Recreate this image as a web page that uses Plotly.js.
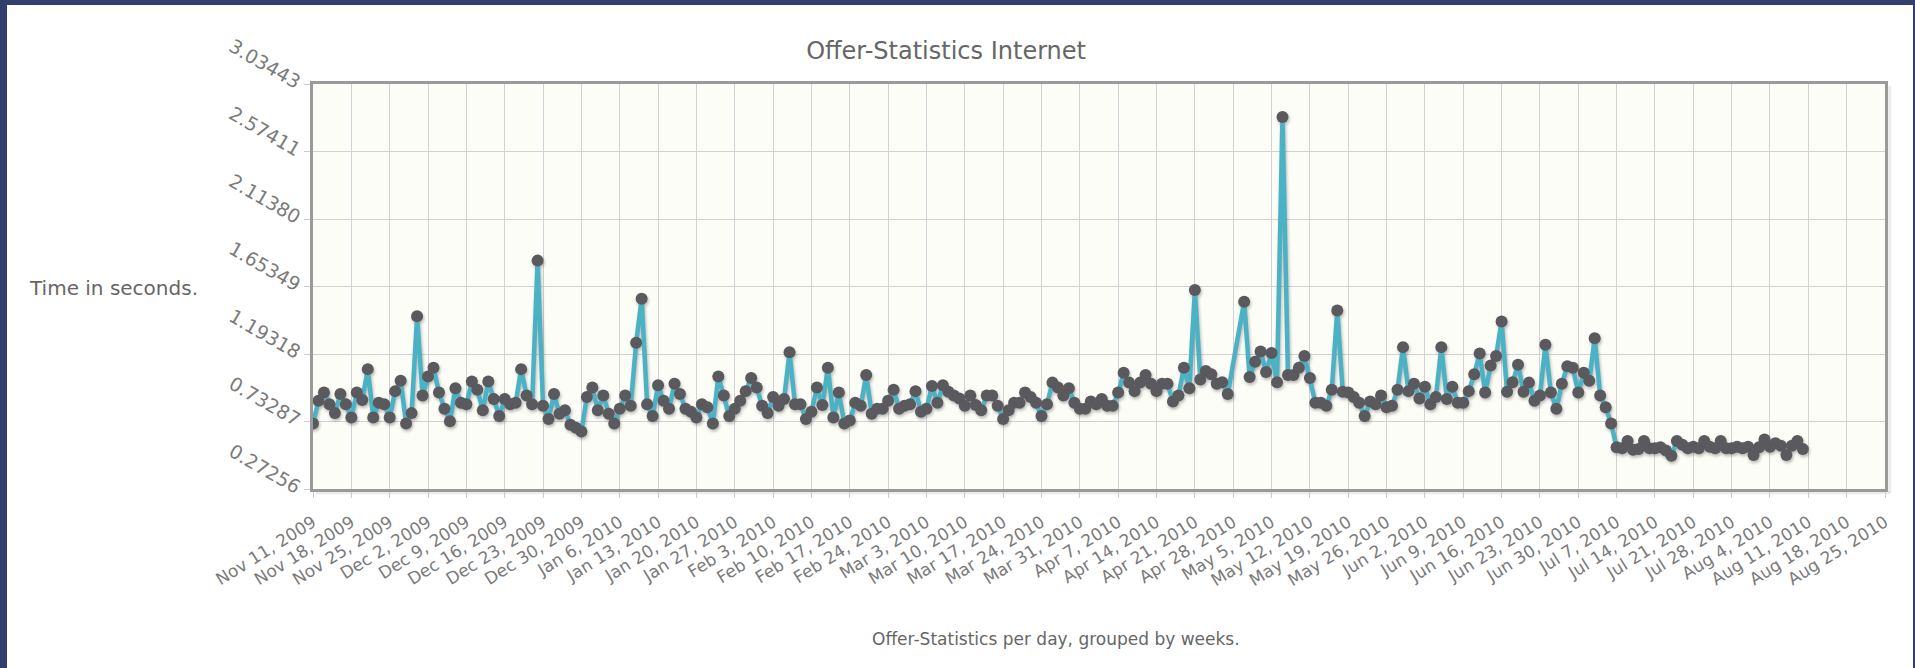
<!DOCTYPE html>
<html>
<head>
<meta charset="utf-8">
<script src="https://cdn.plot.ly/plotly-3.0.1.min.js"></script>
<style>
  html, body { margin: 0; padding: 0; background: #323e6d; width: 1915px; height: 668px; overflow: hidden; }
  #chart { position: absolute; left: 7px; top: 5px; width: 1906px; height: 663px; background: #ffffff; }
  #chart .scatterlayer { filter: drop-shadow(1.5px 2px 1.5px rgba(0,0,0,0.28)); }
</style>
</head>
<body>
<div id="chart"></div>
<script>
// ---- data ----
const startDate = '2009-11-11';   // first daily value
// average response time per day, in seconds (null = no data that day)
const dailySeconds = [
  0.72, 0.875, 0.93, 0.85, 0.79, 0.92, 0.85, 0.76, 0.93, 0.88,
  1.09, 0.76, 0.86, 0.85, 0.76, 0.94, 1.01, 0.72, 0.79, 1.45,
  0.91, 1.04, 1.10, 0.93, 0.82, 0.735, 0.96, 0.86, 0.85, 1.005,
  0.95, 0.81, 1.005, 0.886, 0.77, 0.886, 0.85, 0.86, 1.09, 0.91,
  0.85, 1.83, 0.84, 0.75, 0.92, 0.785, 0.81, 0.71, 0.69, 0.665,
  0.90, 0.965, 0.81, 0.91, 0.785, 0.72, 0.82, 0.91, 0.84, 1.27,
  1.57, 0.85, 0.77, 0.98, 0.875, 0.82, 0.99, 0.92, 0.82, 0.80,
  0.76, 0.85, 0.83, 0.72, 1.04, 0.91, 0.77, 0.82, 0.875, 0.94,
  1.03, 0.965, 0.84, 0.79, 0.90, 0.84, 0.886, 1.205, 0.85, 0.85,
  0.75, 0.80, 0.965, 0.845, 1.10, 0.76, 0.93, 0.72, 0.74, 0.86,
  0.84, 1.05, 0.785, 0.82, 0.82, 0.875, 0.95, 0.82, 0.84, 0.85,
  0.94, 0.80, 0.82, 0.975, 0.86, 0.98, 0.935, 0.91, 0.89, 0.84,
  0.91, 0.845, 0.81, 0.91, 0.91, 0.84, 0.75, 0.81, 0.86, 0.86,
  0.93, 0.90, 0.86, 0.77, 0.85, 0.998, 0.965, 0.91, 0.96, 0.86,
  0.82, 0.82, 0.87, 0.85, 0.886, 0.84, 0.84, 0.93, 1.065, 0.998,
  0.94, 0.998, 1.05, 0.99, 0.94, 0.99, 0.99, 0.87, 0.91, 1.10,
  0.96, 1.63, 1.02, 1.077, 1.055, 0.99, 1.00, 0.92, null, null,
  1.55, 1.036, 1.14, 1.21, 1.07, 1.20, 1.00, 2.81, 1.05, 1.05,
  1.10, 1.18, 1.03, 0.86, 0.86, 0.84, 0.95, 1.49, 0.935, 0.93,
  0.90, 0.86, 0.77, 0.87, 0.85, 0.91, 0.83, 0.84, 0.95, 1.24,
  0.94, 0.99, 0.89, 0.97, 0.85, 0.90, 1.24, 0.886, 0.97, 0.86,
  0.86, 0.94, 1.055, 1.196, 0.93, 1.115, 1.18, 1.415, 0.935, 1.00,
  1.12, 0.935, 0.998, 0.875, 0.91, 1.257, 0.93, 0.82, 0.99, 1.11,
  1.10, 0.93, 1.065, 1.01, 1.30, 0.91, 0.83, 0.72, 0.557, 0.55,
  0.60, 0.54, 0.545, 0.60, 0.55, 0.55, 0.557, 0.535, 0.50, 0.60,
  0.575, 0.55, 0.56, 0.55, 0.60, 0.56, 0.55, 0.60, 0.55, 0.55,
  0.56, 0.55, 0.56, 0.505, 0.557, 0.61, 0.56, 0.585, 0.567, 0.505,
  0.567, 0.60, 0.545
];

// weekly x ticks
const weekTickDates = [
  '2009-11-11','2009-11-18','2009-11-25','2009-12-02','2009-12-09','2009-12-16','2009-12-23','2009-12-30',
  '2010-01-06','2010-01-13','2010-01-20','2010-01-27','2010-02-03','2010-02-10','2010-02-17','2010-02-24',
  '2010-03-03','2010-03-10','2010-03-17','2010-03-24','2010-03-31','2010-04-07','2010-04-14','2010-04-21',
  '2010-04-28','2010-05-05','2010-05-12','2010-05-19','2010-05-26','2010-06-02','2010-06-09','2010-06-16',
  '2010-06-23','2010-06-30','2010-07-07','2010-07-14','2010-07-21','2010-07-28','2010-08-04','2010-08-11',
  '2010-08-18','2010-08-25'
];
const weekTickLabels = [
  'Nov 11, 2009','Nov 18, 2009','Nov 25, 2009','Dec 2, 2009','Dec 9, 2009','Dec 16, 2009','Dec 23, 2009','Dec 30, 2009',
  'Jan 6, 2010','Jan 13, 2010','Jan 20, 2010','Jan 27, 2010','Feb 3, 2010','Feb 10, 2010','Feb 17, 2010','Feb 24, 2010',
  'Mar 3, 2010','Mar 10, 2010','Mar 17, 2010','Mar 24, 2010','Mar 31, 2010','Apr 7, 2010','Apr 14, 2010','Apr 21, 2010',
  'Apr 28, 2010','May 5, 2010','May 12, 2010','May 19, 2010','May 26, 2010','Jun 2, 2010','Jun 9, 2010','Jun 16, 2010',
  'Jun 23, 2010','Jun 30, 2010','Jul 7, 2010','Jul 14, 2010','Jul 21, 2010','Jul 28, 2010','Aug 4, 2010','Aug 11, 2010',
  'Aug 18, 2010','Aug 25, 2010'
];

const yTickValues = [0.27256, 0.73287, 1.19318, 1.65349, 2.11380, 2.57411, 3.03443];
const yTickLabels = ['0.27256', '0.73287', '1.19318', '1.65349', '2.11380', '2.57411', '3.03443'];

const chartTitle = 'Offer-Statistics Internet';
const xTitle = 'Offer-Statistics per day, grouped by weeks.';
const yTitle = 'Time in seconds.';

// ---- build daily date list ----
function dayList(start, n) {
  const out = [];
  const t0 = Date.parse(start + 'T00:00:00Z');
  for (let i = 0; i < n; i++) {
    out.push(new Date(t0 + i * 86400000).toISOString().slice(0, 10));
  }
  return out;
}
const dailyDates = dayList(startDate, dailySeconds.length);

const trace = {
  type: 'scatter',
  mode: 'lines+markers',
  x: dailyDates,
  y: dailySeconds,
  connectgaps: true,
  line: { color: '#4bb2c5', width: 4.5 },
  marker: { color: '#5a5a5e', size: 12 },
  hoverinfo: 'x+y'
};

const layout = {
  width: 1906,
  height: 663,
  margin: { l: 306, r: 28, t: 79, b: 179, pad: 0 },
  paper_bgcolor: '#ffffff',
  plot_bgcolor: '#fdfdf8',
  showlegend: false,
  title: {
    text: chartTitle,
    font: { family: 'DejaVu Sans, sans-serif', size: 24, color: '#666666' },
    xref: 'container', yref: 'container',
    x: 0.4927, xanchor: 'center',
    y: 0.931, yanchor: 'middle'
  },
  xaxis: {
    type: 'date',
    range: ['2009-11-11', '2010-08-25'],
    tickmode: 'array',
    tickvals: weekTickDates,
    ticktext: weekTickLabels,
    tickangle: -32,
    tickfont: { family: 'DejaVu Sans, sans-serif', size: 17, color: '#7a7a7a' },
    ticks: 'outside', ticklen: 6, tickcolor: '#cccccc', tickwidth: 1,
    ticklabelstandoff: 8,
    showgrid: true, gridcolor: '#d2d2d6', gridwidth: 1,
    showline: true, linecolor: '#9a9a9a', linewidth: 3, mirror: true,
    zeroline: false, automargin: false, fixedrange: true
  },
  yaxis: {
    range: [0.27256, 3.03443],
    tickmode: 'array',
    tickvals: yTickValues,
    ticktext: yTickLabels,
    tickangle: 30,
    tickfont: { family: 'DejaVu Sans, sans-serif', size: 19, color: '#7a7a7a' },
    ticks: 'outside', ticklen: 6, tickcolor: '#cccccc', tickwidth: 1,
    showgrid: true, gridcolor: '#d2d2d6', gridwidth: 1,
    showline: true, linecolor: '#9a9a9a', linewidth: 3, mirror: true,
    zeroline: false, automargin: false, fixedrange: true
  },
  annotations: [
    {
      text: yTitle, xref: 'paper', yref: 'paper',
      x: -0.1268, y: 0.496, xanchor: 'center', yanchor: 'middle',
      showarrow: false,
      font: { family: 'DejaVu Sans, sans-serif', size: 20, color: '#666666' }
    },
    {
      text: xTitle, xref: 'paper', yref: 'paper',
      x: 0.4725, y: -0.370, xanchor: 'center', yanchor: 'middle',
      showarrow: false,
      font: { family: 'DejaVu Sans, sans-serif', size: 17, color: '#666666' }
    }
  ],
  shapes: [
    { type: 'line', xref: 'paper', yref: 'paper', x0: 0.002, x1: 1.003, y0: -0.009, y1: -0.009,
      line: { color: 'rgba(0,0,0,0.08)', width: 3 }, layer: 'below' },
    { type: 'line', xref: 'paper', yref: 'paper', x0: 1.003, x1: 1.003, y0: -0.009, y1: 0.995,
      line: { color: 'rgba(0,0,0,0.08)', width: 3 }, layer: 'below' }
  ]
};

Plotly.newPlot('chart', [trace], layout, { displayModeBar: false, staticPlot: true });
</script>
</body>
</html>
